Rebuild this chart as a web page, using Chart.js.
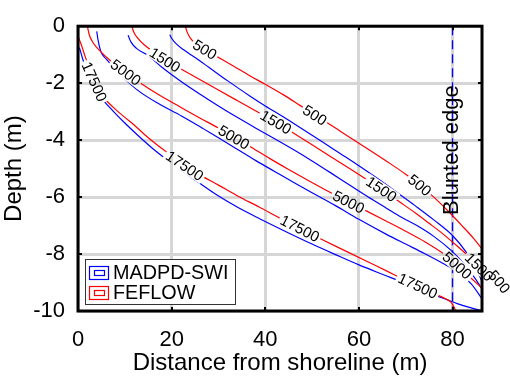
<!DOCTYPE html>
<html>
<head>
<meta charset="utf-8">
<script src="https://cdn.jsdelivr.net/npm/chart.js@4.4.1/dist/chart.umd.min.js"></script>
<style>
  html, body { margin: 0; padding: 0; background: #fff; }
</style>
</head>
<body>
<canvas id="chart" width="510" height="381"></canvas>
<script>
const xTicks = [0, 20, 40, 60, 80];
const yTicks = [-10, -8, -6, -4, -2, 0];
const xMax = 86.3;
const levels = ["500", "1500", "5000", "17500"];
const models = ["MADPD-SWI", "FEFLOW"];
const bluntX = 80;
const bluntLabel = "Blunted edge";
const bluntLabelY = -4.35;

// MADPD-SWI contours (blue)
const madpd500 = [[19.6,-0.3],[20.1,-0.45],[21,-0.62],[22.5,-0.82],[25,-1.1],[28,-1.45],[32,-1.92],[36.7,-2.45],[40,-2.8],[44,-3.2],[48,-3.62],[52,-4.04],[56,-4.47],[60,-4.9],[64,-5.35],[68,-5.82],[72,-6.3],[76,-6.8],[80,-7.35],[83,-7.95],[85,-8.5],[86.3,-8.97]];
const madpd1500 = [[10.7,-0.32],[11.3,-0.55],[12.5,-0.78],[14.9,-1.02],[18,-1.45],[22.1,-1.95],[26,-2.38],[30,-2.8],[34,-3.2],[38,-3.58],[42,-3.95],[46,-4.33],[50,-4.73],[54,-5.15],[58,-5.58],[62,-6.0],[65.8,-6.38],[69,-6.7],[72.4,-7.0],[76,-7.38],[79.6,-7.86],[83,-8.45],[85,-8.9],[86.3,-9.23]];
const madpd5000 = [[4.0,-0.18],[4.3,-0.5],[4.9,-0.9],[6,-1.15],[7.5,-1.42],[10,-1.85],[13,-2.28],[17,-2.7],[22.1,-3.15],[26,-3.52],[30,-3.92],[34,-4.32],[38,-4.72],[42,-5.1],[46,-5.48],[50,-5.85],[55,-6.3],[60,-6.78],[65.8,-7.3],[70,-7.65],[74,-7.98],[78,-8.33],[81,-8.62],[84,-9.05],[86.3,-9.57]];
const madpd17500 = [[0.3,-0.75],[1,-1.15],[2,-1.6],[3,-1.98],[4,-2.28],[5.5,-2.62],[7.5,-2.98],[10,-3.4],[12.7,-3.82],[16,-4.3],[20.4,-4.86],[25,-5.4],[29.6,-5.92],[34,-6.35],[38.8,-6.76],[44,-7.18],[50,-7.65],[55,-8.02],[60,-8.38],[65.8,-8.76],[71,-9.1],[76.7,-9.47],[81,-9.74],[86.3,-10]];

// FEFLOW contours (red)
const feflow500 = [[22.9,0],[23.3,-0.2],[24.0,-0.42],[25.2,-0.62],[27.1,-0.82],[29.6,-1.06],[33,-1.38],[36.7,-1.74],[40,-2.04],[44,-2.42],[47.4,-2.78],[50.6,-3.12],[54,-3.47],[58,-3.9],[62,-4.32],[66,-4.75],[70,-5.2],[73,-5.58],[76,-6.0],[79,-6.48],[82,-7.0],[84.5,-7.45],[86.3,-7.82]];
const feflow1500 = [[11.5,0],[11.9,-0.2],[12.8,-0.43],[14.2,-0.66],[16,-0.88],[18.6,-1.18],[22,-1.5],[26,-1.87],[30,-2.24],[34,-2.61],[38,-2.98],[42.3,-3.37],[46,-3.75],[50,-4.16],[54,-4.58],[58,-5.0],[62,-5.42],[64.8,-5.72],[68.8,-6.18],[72,-6.55],[75,-6.92],[78,-7.3],[81,-7.72],[83.9,-8.15],[86.3,-8.55]];
const feflow5000 = [[2.0,0],[2.4,-0.3],[3.3,-0.6],[4.9,-0.9],[7,-1.22],[10.2,-1.62],[13.4,-2.0],[17,-2.38],[22.1,-2.86],[26,-3.22],[30,-3.58],[33.3,-3.9],[37,-4.25],[41,-4.65],[45,-5.03],[49,-5.4],[53,-5.76],[57.8,-6.17],[62,-6.52],[65.8,-6.84],[70,-7.2],[74,-7.56],[78,-7.98],[81,-8.4],[84,-8.85],[86.3,-9.2]];
const feflow17500 = [[0,-0.35],[0.7,-0.65],[1.5,-1.05],[2.5,-1.5],[3.5,-1.95],[4.6,-2.3],[6.0,-2.6],[8,-2.92],[10,-3.2],[12,-3.47],[14.2,-3.8],[17,-4.18],[20,-4.55],[22.8,-4.9],[26,-5.22],[30,-5.58],[34,-5.95],[38.8,-6.36],[43,-6.73],[47.4,-7.1],[52,-7.48],[57,-7.88],[62,-8.28],[66,-8.6],[70,-8.92],[73,-9.15],[76,-9.38],[78.5,-9.57],[79.6,-9.68],[80.3,-9.85],[80.7,-10]];

const madpdCurves = [madpd500, madpd1500, madpd5000, madpd17500];
const feflowCurves = [feflow500, feflow1500, feflow5000, feflow17500];

// contour labels on the FEFLOW lines: [level index, x, optional y]
const contourLabels = [
  [0, 27.1], [0, 50.6], [0, 73.0], [0, 90, -8.97],
  [1, 18.6], [1, 42.3], [1, 64.8], [1, 85.7],
  [2, 10.2], [2, 33.3], [2, 57.8], [2, 81.0],
  [3, 3.5], [3, 22.8], [3, 47.4], [3, 72.6]
];

const FONT = "'Liberation Sans', Arial, Helvetica, sans-serif";
const BLUE = "#0000ff";
const RED = "#ff0000";
const LABEL_FONT = "15px " + FONT;

function toPts(arr) {
  return arr.map(p => ({ x: p[0], y: p[1] }));
}

function yAt(curve, x) {
  if (x <= curve[0][0]) return curve[0][1];
  for (let i = 0; i < curve.length - 1; i++) {
    const a = curve[i], b = curve[i + 1];
    if (x >= a[0] && x <= b[0]) {
      const t = (x - a[0]) / (b[0] - a[0] || 1);
      return a[1] + t * (b[1] - a[1]);
    }
  }
  return curve[curve.length - 1][1];
}

const datasets = [];
madpdCurves.forEach((c, i) => {
  datasets.push({ label: models[0] + " " + levels[i], data: toPts(c), borderColor: BLUE, borderWidth: 1.2, showLine: true, pointRadius: 0, cubicInterpolationMode: "monotone", order: 2 });
});
feflowCurves.forEach((c, i) => {
  datasets.push({ label: models[1] + " " + levels[i], data: toPts(c), borderColor: RED, borderWidth: 1.2, showLine: true, pointRadius: 0, cubicInterpolationMode: "monotone", order: 1 });
});
datasets.push({ label: bluntLabel, data: [{ x: bluntX, y: 0 }, { x: bluntX, y: -10 }], borderColor: BLUE, borderWidth: 1.3, borderDash: [9, 5], showLine: true, pointRadius: 0, order: 3 });

function labelGeometry(chart) {
  const xs = chart.scales.x, ys = chart.scales.y;
  const ctx = chart.ctx;
  ctx.save();
  ctx.font = LABEL_FONT;
  const out = contourLabels.map(l => {
    const curve = feflowCurves[l[0]];
    const text = levels[l[0]];
    const x = l[1];
    const y = l.length > 2 ? l[2] : yAt(curve, x);
    const x0 = Math.max(curve[0][0], Math.min(x - 1.5, curve[curve.length - 1][0] - 3));
    const x1 = Math.min(curve[curve.length - 1][0], x0 + 3);
    const dx = xs.getPixelForValue(x1) - xs.getPixelForValue(x0);
    const dy = ys.getPixelForValue(yAt(curve, x1)) - ys.getPixelForValue(yAt(curve, x0));
    return {
      text,
      px: xs.getPixelForValue(x),
      py: ys.getPixelForValue(y),
      angle: Math.atan2(dy, dx),
      w: ctx.measureText(text).width + 4,
      h: 13
    };
  });
  ctx.restore();
  return out;
}

const decorations = {
  id: "decorations",
  beforeDatasetsDraw(chart) {
    const ctx = chart.ctx;
    ctx.save();
    // cut the lines where the contour labels sit
    labelGeometry(chart).forEach(g => {
      const c = Math.cos(g.angle), s = Math.sin(g.angle);
      const hw = g.w / 2, hh = g.h / 2;
      const corners = [[-hw, -hh], [hw, -hh], [hw, hh], [-hw, hh]].map(p => [g.px + p[0] * c - p[1] * s, g.py + p[0] * s + p[1] * c]);
      ctx.beginPath();
      ctx.rect(0, 0, chart.width, chart.height);
      ctx.moveTo(corners[0][0], corners[0][1]);
      for (let i = 1; i < 4; i++) ctx.lineTo(corners[i][0], corners[i][1]);
      ctx.closePath();
      ctx.clip("evenodd");
    });
  },
  afterDatasetsDraw(chart) {
    chart.ctx.restore();
  },
  afterDraw(chart) {
    const ctx = chart.ctx;
    const a = chart.chartArea;
    const xs = chart.scales.x, ys = chart.scales.y;
    ctx.save();

    // contour labels
    ctx.fillStyle = "#000";
    ctx.font = LABEL_FONT;
    ctx.textAlign = "center";
    ctx.textBaseline = "middle";
    labelGeometry(chart).forEach(g => {
      ctx.save();
      ctx.translate(g.px, g.py);
      ctx.rotate(g.angle);
      ctx.fillText(g.text, 0, 1);
      ctx.restore();
    });

    // blunted edge text
    ctx.save();
    ctx.font = "22px " + FONT;
    ctx.translate(xs.getPixelForValue(bluntX) - 1, ys.getPixelForValue(bluntLabelY));
    ctx.rotate(-Math.PI / 2);
    ctx.fillText(bluntLabel, 0, 0);
    ctx.restore();

    // tick marks inside the box
    ctx.strokeStyle = "#000";
    ctx.lineWidth = 2;
    ctx.beginPath();
    xTicks.forEach(v => {
      const p = Math.round(xs.getPixelForValue(v));
      ctx.moveTo(p, a.bottom); ctx.lineTo(p, a.bottom - 4);
      ctx.moveTo(p, a.top); ctx.lineTo(p, a.top + 4);
    });
    yTicks.forEach(v => {
      const p = Math.round(ys.getPixelForValue(v));
      ctx.moveTo(a.left, p); ctx.lineTo(a.left + 4, p);
      ctx.moveTo(a.right, p); ctx.lineTo(a.right - 4, p);
    });
    ctx.stroke();

    // axes box
    ctx.lineWidth = 3;
    ctx.strokeRect(a.left, a.top, a.right - a.left, a.bottom - a.top);

    // legend
    const lx = a.left + 7, ly = a.bottom - 52, lw = 150, lh = 45;
    ctx.fillStyle = "#fff";
    ctx.fillRect(lx, ly, lw, lh);
    ctx.lineWidth = 1;
    ctx.strokeStyle = "#333";
    ctx.strokeRect(lx + 0.5, ly + 0.5, lw, lh);
    [BLUE, RED].forEach((col, i) => {
      const cy = ly + 14 + i * 20;
      ctx.strokeStyle = col;
      ctx.lineWidth = 1.2;
      ctx.strokeRect(lx + 4.5, cy - 6.5, 19, 13);
      ctx.strokeRect(lx + 9.5, cy - 2.5, 10, 5);
      ctx.fillStyle = "#000";
      ctx.font = "19.8px " + FONT;
      ctx.textAlign = "left";
      ctx.textBaseline = "middle";
      ctx.fillText(models[i], lx + 28, cy + 1);
    });
    ctx.restore();
  }
};

new Chart(document.getElementById("chart").getContext("2d"), {
  type: "scatter",
  data: { datasets },
  options: {
    responsive: false,
    animation: false,
    layout: { padding: { top: 11, right: 28, left: 0, bottom: 0 } },
    plugins: { legend: { display: false }, tooltip: { enabled: false } },
    scales: {
      x: {
        type: "linear",
        min: 0,
        max: xMax,
        afterBuildTicks: s => { s.ticks = xTicks.map(v => ({ value: v })); },
        afterFit: s => { s.height = 70; },
        grid: { color: "#d6d6d6", lineWidth: 3, drawTicks: false },
        border: { display: false },
        ticks: { color: "#000", font: { family: FONT, size: 22 }, padding: 16, maxRotation: 0 },
        title: { display: true, text: "Distance from shoreline (m)", color: "#000", font: { family: FONT, size: 24 }, padding: { top: 0, bottom: 3 } }
      },
      y: {
        type: "linear",
        min: -10,
        max: 0,
        afterBuildTicks: s => { s.ticks = yTicks.map(v => ({ value: v })); },
        afterFit: s => { s.width = 78; },
        grid: { color: "#d6d6d6", lineWidth: 3, drawTicks: false },
        border: { display: false },
        ticks: { color: "#000", font: { family: FONT, size: 22 }, padding: 13 },
        title: { display: true, text: "Depth (m)", color: "#000", font: { family: FONT, size: 24 }, padding: { top: 0, bottom: 0 } }
      }
    }
  },
  plugins: [decorations]
});
</script>
</body>
</html>
